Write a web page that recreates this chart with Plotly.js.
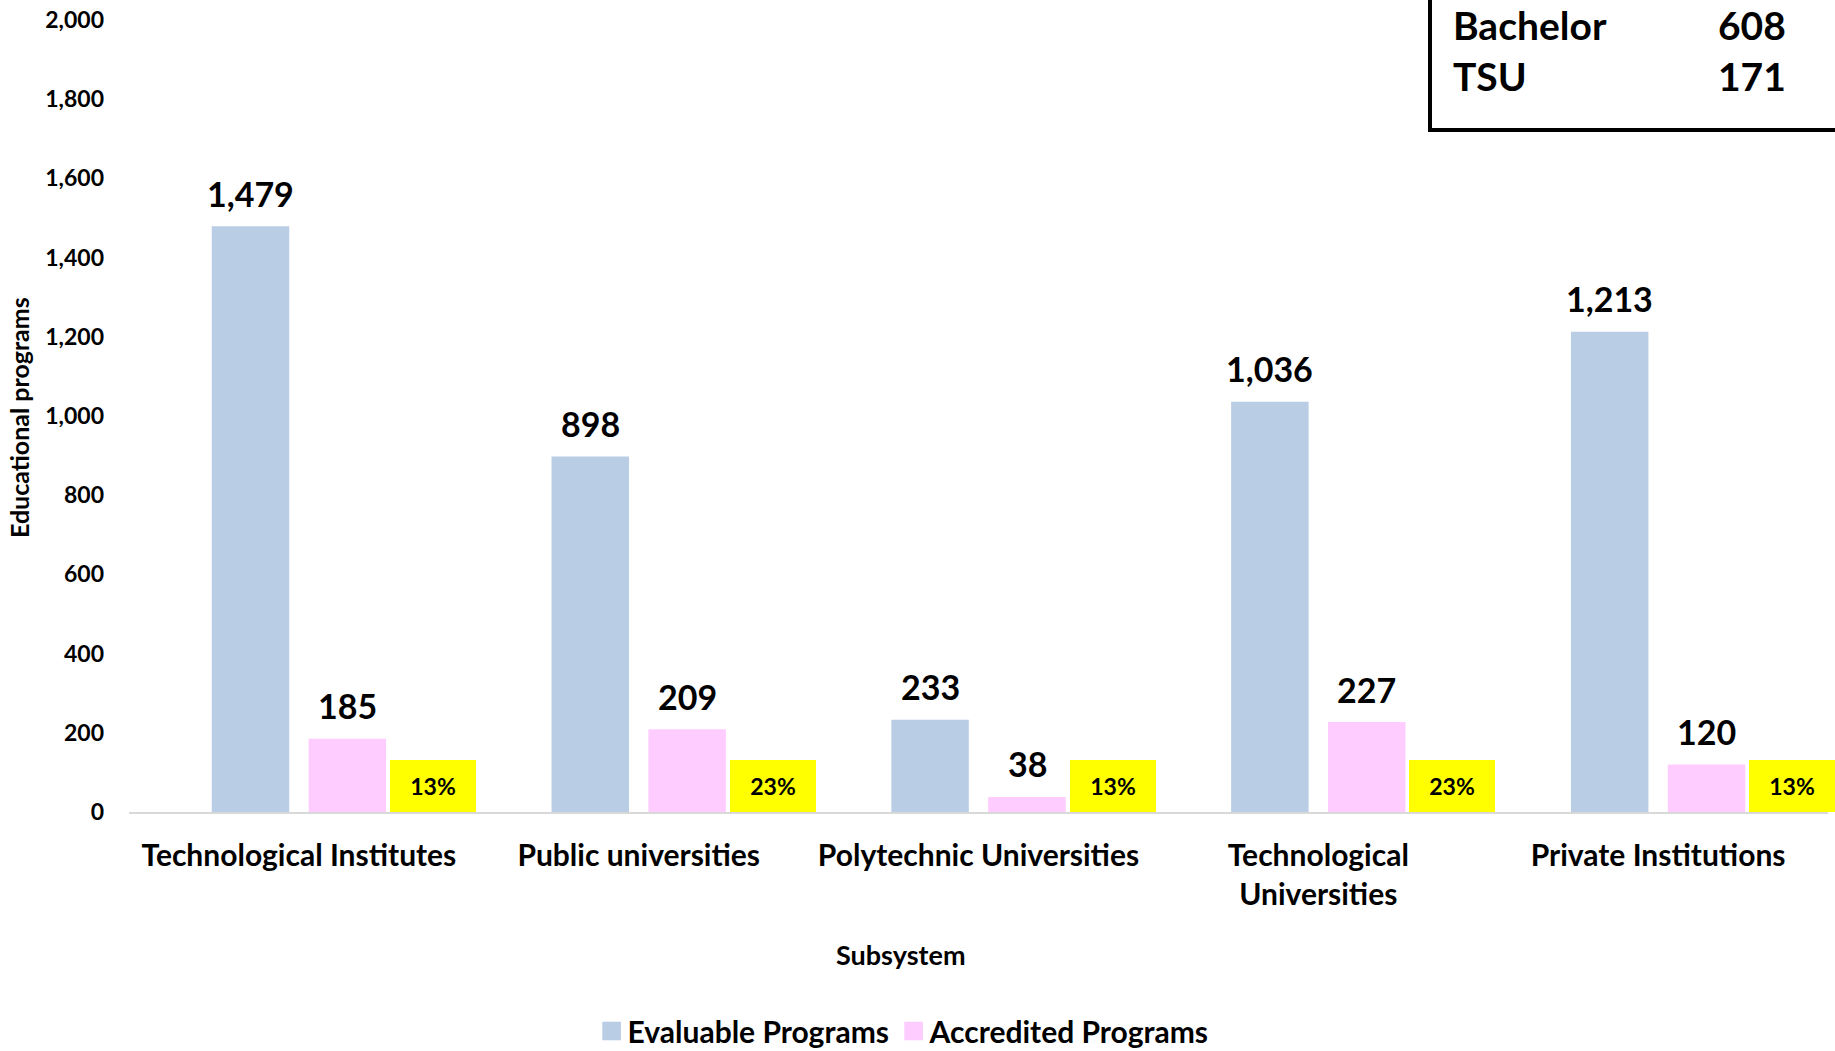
<!DOCTYPE html>
<html>
<head>
<meta charset="utf-8">
<script src="https://cdn.plot.ly/plotly-3.0.1.min.js"></script>
<style>
  html, body { margin: 0; padding: 0; background: #fff; }
  #chart { width: 1835px; height: 1051px; }
</style>
</head>
<body>
<div id="chart"></div>
<script>
const categories = ['Technological Institutes', 'Public universities', 'Polytechnic Universities', 'Technological<br>Universities', 'Private Institutions'];
const evaluable = [1479, 898, 233, 1036, 1213];
const accredited = [185, 209, 38, 227, 120];
const percentLabels = ['13%', '23%', '13%', '23%', '13%'];
const boxLabels = ['Bachelor', 'TSU'];
const boxValues = [608, 171];
const yTickVals = [0, 200, 400, 600, 800, 1000, 1200, 1400, 1600, 1800, 2000];

const FONT = 'Lato, "Open Sans", sans-serif';
const fmt = v => v.toLocaleString('en-US');

const traces = [
  {
    type: 'bar', name: 'Evaluable Programs', x: categories, y: evaluable,
    marker: { color: '#B9CDE5' }, hoverinfo: 'x+y'
  },
  {
    type: 'bar', name: 'Accredited Programs', x: categories, y: accredited,
    marker: { color: '#FFCCFF' }, hoverinfo: 'x+y'
  }
];

const annotations = [];
// value labels above bars
[[evaluable, -48.5], [accredited, 48.5]].forEach(([vals, dx]) => {
  vals.forEach((v, i) => annotations.push({
    x: categories[i], y: v, xref: 'x', yref: 'y', xshift: dx, yshift: 33,
    xanchor: 'center', yanchor: 'middle', text: fmt(v), showarrow: false,
    font: { size: 34, color: '#000', family: FONT, weight: 700 }
  }));
});
// percentage boxes
categories.forEach((c, i) => annotations.push({
  x: c, y: 0, xref: 'x', yref: 'y', xanchor: 'center', yanchor: 'bottom',
  xshift: 134, text: percentLabels[i], showarrow: false,
  bgcolor: '#FFFF00', width: 86, height: 52, borderpad: 0, borderwidth: 0,
  font: { size: 23, color: '#000', family: FONT, weight: 700 }
}));

const L = 129, R = 1828, T = 20, B = 812;
const px2x = p => (p - L) / (R - L);
const px2y = p => (B - p) / (B - T);

boxLabels.forEach((lab, i) => {
  annotations.push({
    x: px2x(1451), y: px2y(25 + i * 51), xref: 'paper', yref: 'paper', xanchor: 'left', yanchor: 'middle',
    text: lab, showarrow: false, font: { size: 39, color: '#000', family: FONT, weight: 700 }
  });
  annotations.push({
    x: px2x(1788), y: px2y(25 + i * 51), xref: 'paper', yref: 'paper', xanchor: 'right', yanchor: 'middle',
    text: fmt(boxValues[i]), showarrow: false, font: { size: 39, color: '#000', family: FONT, weight: 700 }
  });
});

// axis titles
annotations.push({
  x: px2x(901), y: px2y(954), xref: 'paper', yref: 'paper', xanchor: 'center', yanchor: 'middle',
  text: 'Subsystem', showarrow: false, font: { size: 27, color: '#000', family: FONT, weight: 700 }
});
annotations.push({
  x: px2x(19), y: px2y(417), xref: 'paper', yref: 'paper', xanchor: 'center', yanchor: 'middle',
  textangle: -90, text: 'Educational programs', showarrow: false,
  font: { size: 25, color: '#000', family: FONT, weight: 700 }
});

const layout = {
  width: 1835, height: 1051,
  margin: { l: L, r: 1835 - R, t: T, b: 1051 - B, autoexpand: false },
  paper_bgcolor: '#fff', plot_bgcolor: '#fff',
  font: { family: FONT, color: '#000', weight: 700 },
  barmode: 'group', bargap: 0.43, bargroupgap: 0.2,
  showlegend: true,
  legend: {
    orientation: 'h', x: px2x(608) - 0.012, xanchor: 'left',
    y: px2y(1031), yanchor: 'middle',
    font: { size: 30, family: FONT, weight: 700, color: '#000' },
    tracegroupgap: 0, entrywidth: 257, bgcolor: 'rgba(0,0,0,0)'
  },
  xaxis: {
    type: 'category', range: [-0.5, categories.length - 0.5], autorange: false,
    showline: true, linecolor: '#D9D9D9', linewidth: 2,
    showgrid: false, zeroline: false, ticks: '',
    tickfont: { size: 30, family: FONT, weight: 700, color: '#000' },
    ticklabelstandoff: 16, automargin: false
  },
  yaxis: {
    range: [0, 2000], autorange: false, tickvals: yTickVals, tickformat: ',d',
    showline: false, showgrid: false, zeroline: false, ticks: '',
    tickfont: { size: 23, family: FONT, weight: 700, color: '#000' },
    ticklabelstandoff: 24, automargin: false
  },
  shapes: [{
    type: 'rect', xref: 'paper', yref: 'paper',
    x0: px2x(1430), x1: 1.2, y0: px2y(130), y1: 1.2,
    line: { color: '#000', width: 4 }, fillcolor: 'rgba(0,0,0,0)'
  }],
  annotations: annotations
};

Plotly.newPlot('chart', traces, layout, { displayModeBar: false, staticPlot: true }).then(gd => {
  // let the last legend entry overflow its fixed entry width instead of being clipped
  gd.querySelectorAll('.legend [clip-path]').forEach(el => el.removeAttribute('clip-path'));
  // enlarge legend colour swatches (scaled about their own centre) to match the reference
  gd.querySelectorAll('.legend .legendpoints path').forEach(p => {
    const bb = p.getBBox();
    const cx = bb.x + bb.width / 2, cy = bb.y + bb.height / 2;
    const prev = p.getAttribute('transform') || '';
    p.setAttribute('transform', `${prev} translate(${cx + 4},${cy}) scale(1.55) translate(${-cx},${-cy})`);
  });
});
</script>
</body>
</html>
